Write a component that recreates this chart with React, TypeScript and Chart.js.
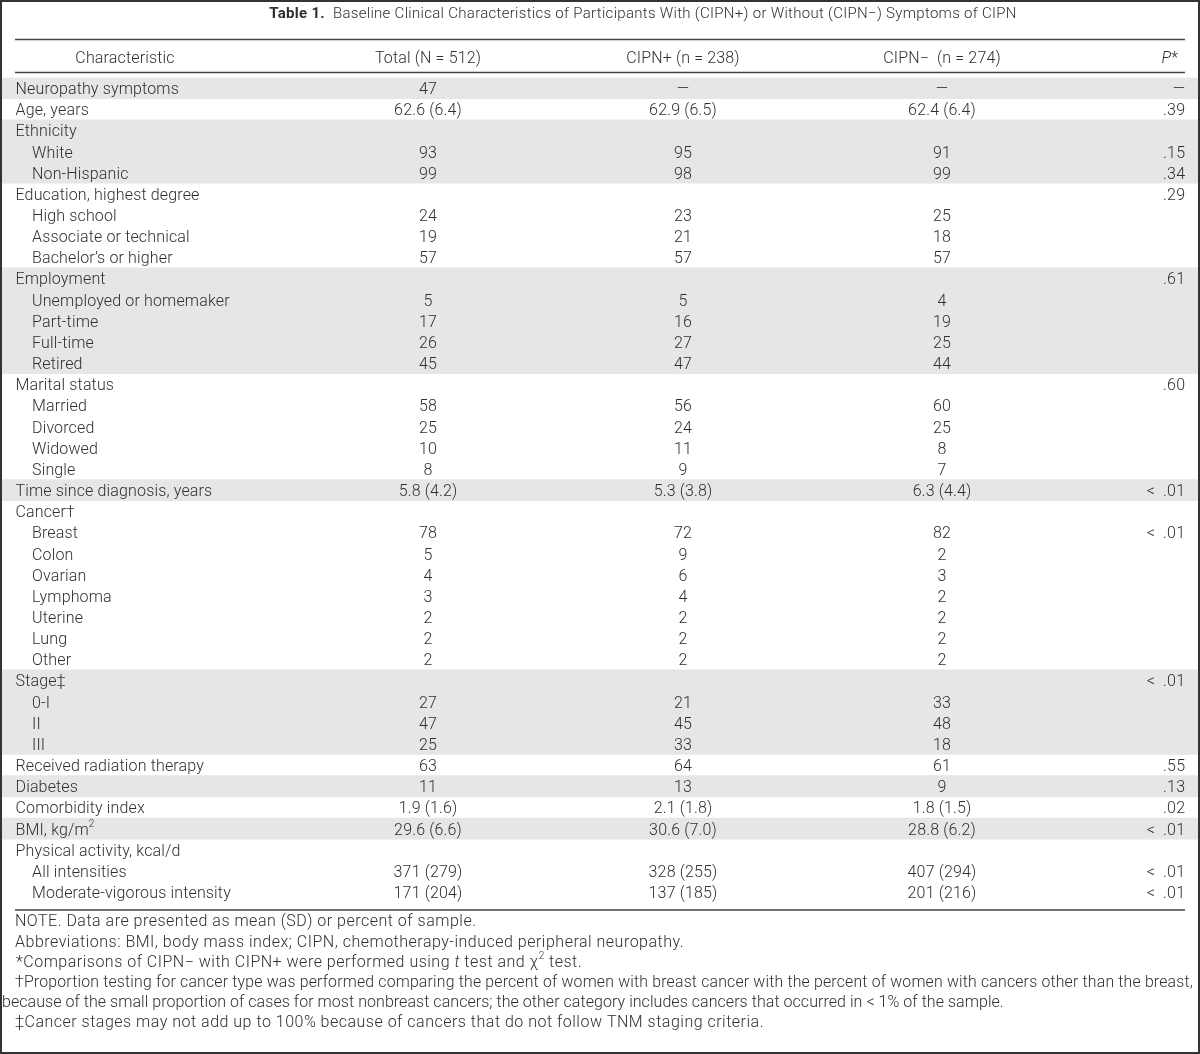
import { useEffect, useRef } from "react";
import { Chart, registerables } from "chart.js";

Chart.register(...registerables);

const rowLabels = [
  "Neuropathy symptoms",
  "Age, years",
  "Ethnicity",
  "White",
  "Non-Hispanic",
  "Education, highest degree",
  "High school",
  "Associate or technical",
  "Bachelor’s or higher",
  "Employment",
  "Unemployed or homemaker",
  "Part-time",
  "Full-time",
  "Retired",
  "Marital status",
  "Married",
  "Divorced",
  "Widowed",
  "Single",
  "Time since diagnosis, years",
  "Cancer†",
  "Breast",
  "Colon",
  "Ovarian",
  "Lymphoma",
  "Uterine",
  "Lung",
  "Other",
  "Stage‡",
  "0-I",
  "II",
  "III",
  "Received radiation therapy",
  "Diabetes",
  "Comorbidity index",
  "BMI, kg/m^2",
  "Physical activity, kcal/d",
  "All intensities",
  "Moderate-vigorous intensity",
];

const rowIndent = [
  0, 0, 0, 1, 1, 0, 1, 1, 1, 0, 1, 1, 1, 1, 0, 1, 1, 1, 1, 0, 0, 1, 1, 1, 1, 1, 1, 1, 0, 1, 1, 1, 0, 0, 0, 0, 0, 1, 1,
];

const shadedRows = [
  true, false, true, true, true, false, false, false, false, true, true, true, true, true, false, false, false, false,
  false, true, false, false, false, false, false, false, false, false, true, true, true, true, false, true, false, true,
  false, false, false,
];

const totalValues = [
  "47", "62.6 (6.4)", "", "93", "99", "", "24", "19", "57", "", "5", "17", "26", "45", "", "58", "25", "10", "8",
  "5.8 (4.2)", "", "78", "5", "4", "3", "2", "2", "2", "", "27", "47", "25", "63", "11", "1.9 (1.6)", "29.6 (6.6)", "",
  "371 (279)", "171 (204)",
];

const cipnPlusValues = [
  "—", "62.9 (6.5)", "", "95", "98", "", "23", "21", "57", "", "5", "16", "27", "47", "", "56", "24", "11", "9",
  "5.3 (3.8)", "", "72", "9", "6", "4", "2", "2", "2", "", "21", "45", "33", "64", "13", "2.1 (1.8)", "30.6 (7.0)", "",
  "328 (255)", "137 (185)",
];

const cipnMinusValues = [
  "—", "62.4 (6.4)", "", "91", "99", "", "25", "18", "57", "", "4", "19", "25", "44", "", "60", "25", "8", "7",
  "6.3 (4.4)", "", "82", "2", "3", "2", "2", "2", "2", "", "33", "48", "18", "61", "9", "1.8 (1.5)", "28.8 (6.2)", "",
  "407 (294)", "201 (216)",
];

const pValues = [
  "—", ".39", "", ".15", ".34", ".29", "", "", "", ".61", "", "", "", "", ".60", "", "", "", "", "<  .01", "", "<  .01",
  "", "", "", "", "", "", "<  .01", "", "", "", ".55", ".13", ".02", "<  .01", "", "<  .01", "<  .01",
];

const columnHeaders = ["Characteristic", "Total (N = 512)", "CIPN+ (n = 238)", "CIPN−  (n = 274)", "_P_*"];

const titleBold = "Table 1.";
const titleText = "  Baseline Clinical Characteristics of Participants With (CIPN+) or Without (CIPN−) Symptoms of CIPN";

const footnotes = [
  "NOTE. Data are presented as mean (SD) or percent of sample.",
  "Abbreviations: BMI, body mass index; CIPN, chemotherapy-induced peripheral neuropathy.",
  "*Comparisons of CIPN− with CIPN+ were performed using _t_ test and χ^2 test.",
  "†Proportion testing for cancer type was performed comparing the percent of women with breast cancer with the percent of women with cancers other than the breast,",
  "because of the small proportion of cases for most nonbreast cancers; the other category includes cancers that occurred in < 1% of the sample.",
  "‡Cancer stages may not add up to 100% because of cancers that do not follow TNM staging criteria.",
];

// ---- layout (styles / positions) ----
const W = 1200;
const H = 1054;
const FONT = "Roboto";
const TEXT_COLOR = "#2f2f2f";
const SHADE = "#e6e6e6";
const RULE_COLOR = "#444";
const FS = 16;
const DY = 2;
const BODY_LS = 0.15;
const COL_CENTER = [125, 428, 683, 942];
const P_RIGHT = 1185;
const LABEL_X = [15.5, 32];
const RULE_X0 = 15;
const RULE_X1 = 1185;
const FOOT_Y = [920, 940.5, 960.5, 980.5, 1000.5, 1020.5];
const FOOT_X = [15, 15, 16, 15, 2, 15];
const FOOT_MAXW = [0, 0, 0, 1178, 0, 0];
const FOOT_LS = [0.5, 0.5, 0.5, 0.2, 0.05, 0.5];

type Seg = { text: string; italic?: boolean; sup?: boolean; bold?: boolean };

function parse(s: string): Seg[] {
  const segs: Seg[] = [];
  let i = 0;
  let buf = "";
  const flush = () => {
    if (buf) segs.push({ text: buf });
    buf = "";
  };
  while (i < s.length) {
    const c = s[i];
    if (c === "_") {
      flush();
      const j = s.indexOf("_", i + 1);
      segs.push({ text: s.slice(i + 1, j), italic: true });
      i = j + 1;
    } else if (c === "^") {
      flush();
      segs.push({ text: s[i + 1], sup: true });
      i += 2;
    } else {
      buf += c;
      i++;
    }
  }
  flush();
  return segs;
}

function segFont(seg: Seg, size: number) {
  const sz = seg.sup ? Math.round(size * 0.65) : size;
  return `${seg.italic ? "italic " : ""}${seg.bold ? "700" : "300"} ${sz}px ${FONT}`;
}

function drawRich(
  ctx: CanvasRenderingContext2D,
  segs: Seg[],
  x: number,
  y: number,
  align: "left" | "center" | "right",
  size = FS,
  maxW = 0,
  ls = BODY_LS
) {
  (ctx as any).letterSpacing = `${ls}px`;
  let total = 0;
  const widths = segs.map((sg) => {
    ctx.font = segFont(sg, size);
    const w = ctx.measureText(sg.text).width;
    total += w;
    return w;
  });
  let scale = 1;
  if (maxW > 0 && total > maxW) scale = maxW / total;
  let cx = x;
  if (align === "center") cx = x - (total * scale) / 2;
  else if (align === "right") cx = x - total * scale + ls;
  ctx.save();
  ctx.translate(cx, 0);
  ctx.scale(scale, 1);
  let px = 0;
  segs.forEach((sg, k) => {
    ctx.font = segFont(sg, size);
    ctx.textAlign = "left";
    ctx.textBaseline = "middle";
    ctx.fillText(sg.text, px, sg.sup ? y - size * 0.38 : y);
    px += widths[k];
  });
  ctx.restore();
  (ctx as any).letterSpacing = "0px";
}

const tablePlugin = {
  id: "tableText",
  beforeDraw(chart: any) {
    const ctx = chart.ctx as CanvasRenderingContext2D;
    ctx.save();
    ctx.fillStyle = "#fff";
    ctx.fillRect(0, 0, W, H);
    ctx.restore();
  },
  afterDraw(chart: any) {
    const ctx = chart.ctx as CanvasRenderingContext2D;
    const yScale = chart.scales.y;
    ctx.save();
    ctx.fillStyle = TEXT_COLOR;

    // title
    const titleSegs: Seg[] = [{ text: titleBold, bold: true }, { text: titleText }];
    drawRich(ctx, titleSegs, 643, 14, "center", 15, 0, 0.3);

    // rules
    ctx.strokeStyle = RULE_COLOR;
    ctx.lineWidth = 1.6;
    [39.5, 72.5, 910].forEach((ry) => {
      ctx.beginPath();
      ctx.moveTo(RULE_X0, ry);
      ctx.lineTo(RULE_X1, ry);
      ctx.stroke();
    });

    // header
    columnHeaders.forEach((h, k) => {
      if (k < 4) drawRich(ctx, parse(h), COL_CENTER[k], 57 + DY, "center");
      else drawRich(ctx, parse(h), 1178, 57 + DY, "right");
    });

    // rows
    rowLabels.forEach((lab, i) => {
      const y = yScale.getPixelForValue(i) + DY;
      drawRich(ctx, parse(lab), LABEL_X[rowIndent[i]], y, "left");
      const vals = [totalValues[i], cipnPlusValues[i], cipnMinusValues[i]];
      vals.forEach((v, k) => {
        if (v) drawRich(ctx, parse(v), COL_CENTER[k + 1], y, "center");
      });
      if (pValues[i]) drawRich(ctx, parse(pValues[i]), P_RIGHT, y, "right");
    });

    // footnotes
    footnotes.forEach((f, k) => {
      drawRich(ctx, parse(f), FOOT_X[k], FOOT_Y[k] + DY, "left", FS, FOOT_MAXW[k], FOOT_LS[k]);
    });

    // frame
    ctx.strokeStyle = "#333";
    ctx.lineWidth = 2;
    ctx.strokeRect(1, 1, W - 2, H - 2);
    ctx.restore();
  },
};

export default function App() {
  const ref = useRef<HTMLCanvasElement | null>(null);
  useEffect(() => {
    document.body.style.margin = "0";
    const canvas = ref.current;
    if (!canvas) return;
    const chart = new Chart(canvas, {
      type: "bar",
      data: {
        labels: rowLabels,
        datasets: [
          {
            data: shadedRows.map((s) => (s ? [0, 1] : null)) as any,
            backgroundColor: SHADE,
            borderWidth: 0,
            barPercentage: 1,
            categoryPercentage: 1,
          },
        ],
      },
      options: {
        indexAxis: "y",
        responsive: false,
        animation: false,
        devicePixelRatio: 1,
        events: [],
        layout: { padding: { left: 2, right: 2, top: 77.5, bottom: H - 902.6 } },
        plugins: { legend: { display: false }, tooltip: { enabled: false }, title: { display: false } },
        scales: {
          x: { type: "linear", min: 0, max: 1, display: false },
          y: { type: "category", display: false, offset: true, grid: { display: false } },
        },
      },
      plugins: [tablePlugin],
    });
    return () => chart.destroy();
  }, []);
  return (
    <div style={{ position: "absolute", left: 0, top: 0, width: W, height: H }}>
      <canvas ref={ref} width={W} height={H} style={{ display: "block", width: W, height: H }} />
    </div>
  );
}
